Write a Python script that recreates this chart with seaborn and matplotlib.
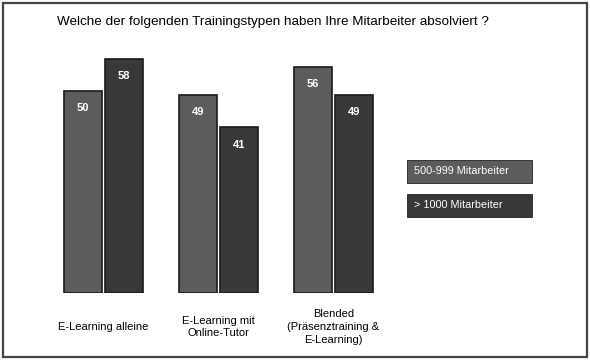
import matplotlib
matplotlib.use("Agg")
import matplotlib.pyplot as plt
import pandas as pd
import seaborn as sns
from matplotlib.patches import Rectangle

# ---- data ------------------------------------------------------------------
categories = ["E-Learning alleine",
              "E-Learning mit\nOnline-Tutor",
              "Blended\n(Präsenztraining &\nE-Learning)"]
series = ["500-999 Mitarbeiter", "> 1000 Mitarbeiter"]
values_500 = [50, 49, 56]
values_1000 = [58, 41, 49]
title = "Welche der folgenden Trainingstypen haben Ihre Mitarbeiter absolviert ?"

df = pd.DataFrame({
    "typ": categories * 2,
    "gruppe": [series[0]] * 3 + [series[1]] * 3,
    "wert": values_500 + values_1000,
})

colors = {series[0]: "#5c5c5c", series[1]: "#383838"}

sns.set_theme(style="white")
plt.rcParams["font.family"] = ["Liberation Sans", "DejaVu Sans"]

fig = plt.figure(figsize=(5.9, 3.6), dpi=100)
ax = fig.add_axes([46 / 590, 67 / 360, 345 / 590, 242.4 / 360])

sns.barplot(data=df, x="typ", y="wert", hue="gruppe", palette=colors,
            width=0.72, gap=0.08, edgecolor="#1a1a1a", linewidth=1.2,
            legend=False, ax=ax)

ax.set_xlim(-0.5, 2.5)
ax.set_ylim(0, 60)
sns.despine(ax=ax, left=True, bottom=True)
ax.set_yticks([])
ax.set_xlabel("")
ax.set_ylabel("")
ax.tick_params(axis="x", length=0, pad=24.5, labelsize=8, colors="black")
for lbl in ax.get_xticklabels():
    lbl.set_va("center")
    lbl.set_multialignment("center")
    lbl.set_linespacing(1.35)

# value labels inside bar tops
for cont in ax.containers:
    ax.bar_label(cont, labels=[f"{int(v)}" for v in cont.datavalues],
                 label_type="edge", padding=-16, color="white",
                 fontsize=8, fontweight="bold")

# title
fig.text(57 / 590, 1 - 22 / 360, title, fontsize=9.7, color="black",
         va="center", ha="left")

# legend boxes
leg_y = [160, 194]
for (name, y0) in zip(series, leg_y):
    fig.patches.append(Rectangle((407 / 590, 1 - (y0 + 23) / 360), 125 / 590, 23 / 360,
                                 transform=fig.transFigure, facecolor=colors[name],
                                 edgecolor="#222222", linewidth=0.6))
    fig.text(414 / 590, 1 - (y0 + 11.5) / 360, name, color="white",
             fontsize=7.8, va="center", ha="left")

# outer frame
fig.patches.append(Rectangle((3 / 590, 3 / 360), 584 / 590, 354 / 360,
                             transform=fig.transFigure, fill=False,
                             edgecolor="#444444", linewidth=1.6))

fig.savefig("out.png", dpi=100)
